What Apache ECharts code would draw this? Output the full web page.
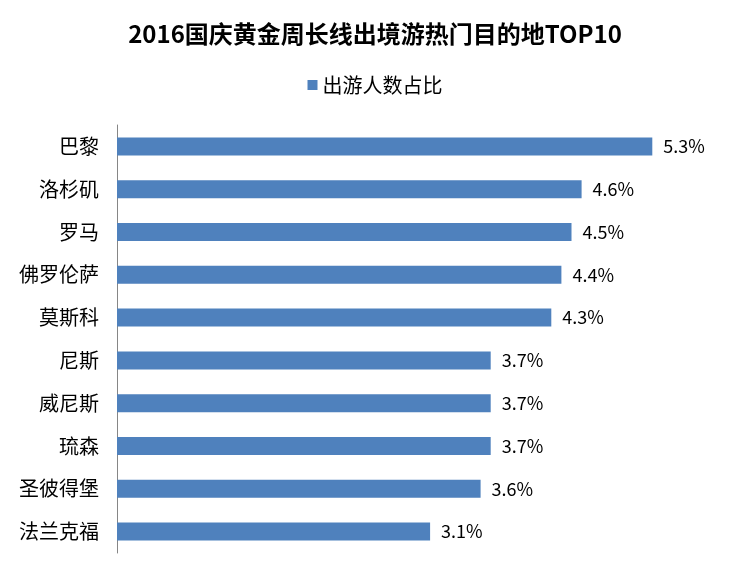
<!DOCTYPE html>
<html>
<head>
<meta charset="utf-8">
<script src="https://cdn.jsdelivr.net/npm/echarts@6/dist/echarts.min.js"></script>
<style>html,body{margin:0;padding:0;background:#fff;}#main{width:750px;height:576px;}</style>
</head>
<body>
<div id="main"></div>
<script>
var cities = ['巴黎', '洛杉矶', '罗马', '佛罗伦萨', '莫斯科', '尼斯', '威尼斯', '琉森', '圣彼得堡', '法兰克福'];
var shares = [5.3, 4.6, 4.5, 4.4, 4.3, 3.7, 3.7, 3.7, 3.6, 3.1];

var myChart = echarts.init(document.getElementById('main'));
var font = '"Noto Sans CJK SC", sans-serif';
option = {
    backgroundColor: '#fff',
    title: {
        text: '2016国庆黄金周长线出境游热门目的地TOP10',
        left: 'center',
        top: 17,
        textStyle: { fontFamily: font, fontSize: 24, fontWeight: 'bold', color: '#000' }
    },
    legend: {
        top: 70,
        left: 'center',
        itemWidth: 10,
        itemHeight: 10,
        itemGap: 6,
        icon: 'rect',
        textStyle: { fontFamily: font, fontSize: 20, color: '#000' },
        data: ['出游人数占比']
    },
    grid: { left: 117, right: 27, top: 125, bottom: 23 },
    xAxis: {
        type: 'value',
        min: 0,
        max: 6,
        show: false
    },
    yAxis: {
        type: 'category',
        inverse: true,
        data: cities,
        axisLine: { lineStyle: { color: '#868686' } },
        axisTick: { show: false },
        axisLabel: { fontFamily: font, fontSize: 20, color: '#000', margin: 18 }
    },
    series: [
        {
            name: '出游人数占比',
            type: 'bar',
            data: shares,
            barCategoryGap: '58%',
            itemStyle: { color: '#4F81BD' },
            label: {
                show: true,
                position: 'right',
                distance: 11,
                fontFamily: font,
                fontSize: 18,
                color: '#000',
                formatter: function (p) { return p.value.toFixed(1) + '%'; }
            }
        }
    ]
};
myChart.setOption(option);
</script>
</body>
</html>
